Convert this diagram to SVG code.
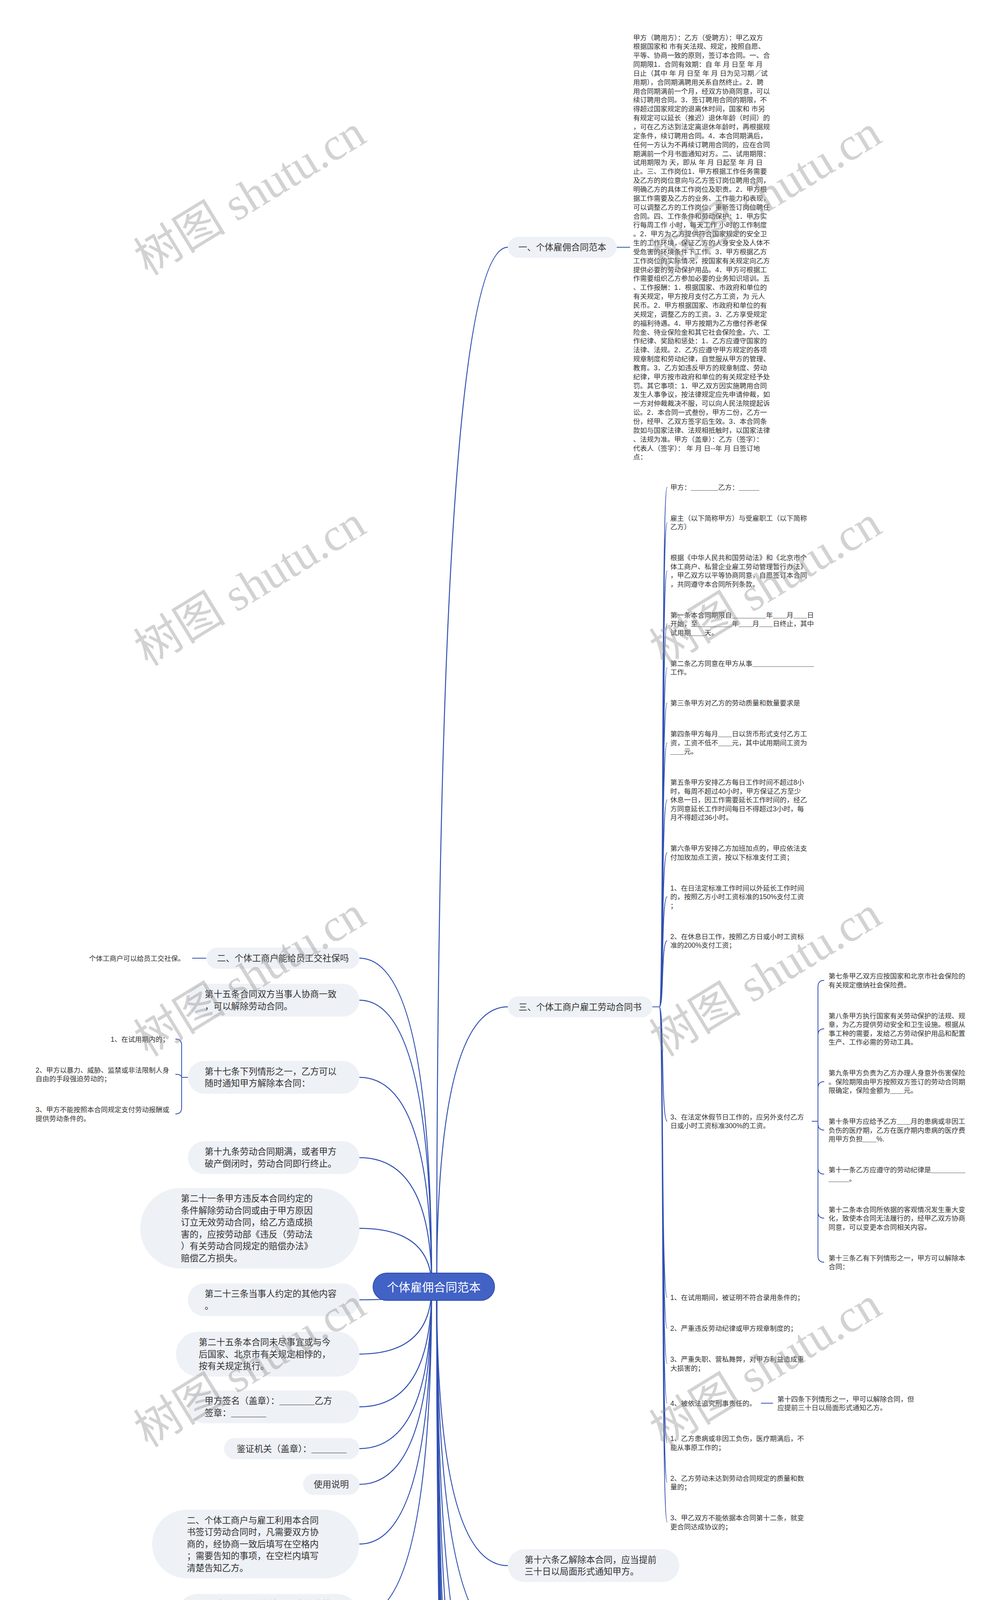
<svg xmlns="http://www.w3.org/2000/svg" width="2560" height="6058" viewBox="0 0 2560 6058">
<style>
text{font-family:"Liberation Sans","Noto Sans CJK SC",sans-serif;fill:#333}
.s{font-size:17.5px}
.m{font-size:22.5px}
.rt{font-size:30px;fill:#fff}
.nd{fill:#EEF1F6}
.c{fill:none;stroke:#3150B2;stroke-width:2}
.cr{fill:none;stroke:#3150B2;stroke-width:2.5}
.wm{font-size:118px;fill:#8a8a8a;opacity:.38}
</style>
<rect width="2560" height="6058" fill="#fff"/>
<g id="connectors">
<path class="cr" d="M1105 3294Q1105 2453 920 2453"/>
<path class="cr" d="M1105 3294Q1105 2560.5 920 2560.5"/>
<path class="cr" d="M1105 3294Q1105 2758 920 2758"/>
<path class="cr" d="M1105 3294Q1105 2963.5 920 2963.5"/>
<path class="cr" d="M1105 3294Q1105 3144.5 920 3144.5"/>
<path class="cr" d="M1105 3294Q1105 3327.5 920 3327.5"/>
<path class="cr" d="M1105 3294Q1105 3466.5 920 3466.5"/>
<path class="cr" d="M1105 3294Q1105 3601.5 920 3601.5"/>
<path class="cr" d="M1105 3294Q1105 3708.5 920 3708.5"/>
<path class="cr" d="M1105 3294Q1105 3800 920 3800"/>
<path class="cr" d="M1105 3294Q1105 3952.75 920 3952.75"/>
<path class="cr" d="M1105 3294Q1105 4137.75 920 4137.75"/>
<path class="cr" d="M1118 3294Q1118 633 1300 633"/>
<path class="cr" d="M1118 3294Q1118 2577.5 1300 2577.5"/>
<path class="cr" d="M1118 3294Q1118 4008 1300 4008"/>
<path class="cr" d="M1118 3294Q1118 4196 1300 4196"/>
<path class="cr" d="M1118 3294Q1118 4465.5 1300 4465.5"/>
<path class="cr" d="M1118 3294Q1118 4723.5 1300 4723.5"/>
<path class="cr" d="M1118 3294Q1118 4969.5 1300 4969.5"/>
<path class="cr" d="M1118 3294Q1118 5154.5 1300 5154.5"/>
<path class="cr" d="M1118 3294Q1118 5278.5 1300 5278.5"/>
<path class="cr" d="M1118 3294Q1118 5387.5 1300 5387.5"/>
<path class="cr" d="M1118 3294Q1118 5496.5 1300 5496.5"/>
<path class="cr" d="M1118 3294Q1118 5712 1300 5712"/>
<path class="cr" d="M1118 3294Q1118 5942.75 1300 5942.75"/>
<path class="c" d="M1579 633H1613"/>
<path class="c" d="M528 2453H492"/>
<path class="c" d="M481 2758H465M465 2758V2676Q465 2660 449 2660M465 2758Q465 2750.25 449 2750.25M465 2758V2835.75Q465 2851.75 449 2851.75"/>
<path class="c" d="M1739 4196H1755M1755 4196V4125Q1755 4109 1771 4109M1755 4196Q1755 4188 1771 4188M1755 4196V4262.25Q1755 4278.25 1771 4278.25"/>
<path class="c" d="M1670 2577.5H1688"/>
<path class="c" d="M1688 2577.5C1700 2577.5 1692 1247 1708 1247M1688 2577.5C1700 2577.5 1692 1337.25 1708 1337.25M1688 2577.5C1700 2577.5 1692 1461.25 1708 1461.25M1688 2577.5C1700 2577.5 1692 1596.5 1708 1596.5M1688 2577.5C1700 2577.5 1692 1709.25 1708 1709.25M1688 2577.5C1700 2577.5 1692 1799.5 1708 1799.5M1688 2577.5C1700 2577.5 1692 1901 1708 1901M1688 2577.5C1700 2577.5 1692 2047.5 1708 2047.5M1688 2577.5C1700 2577.5 1692 2182.75 1708 2182.75M1688 2577.5C1700 2577.5 1692 2295.5 1708 2295.5M1688 2577.5C1700 2577.5 1692 2408.25 1708 2408.25M1688 2577.5C1700 2577.5 1692 2870.5 1708 2870.5M1688 2577.5C1700 2577.5 1692 3321.5 1708 3321.5M1688 2577.5C1700 2577.5 1692 3400.5 1708 3400.5M1688 2577.5C1700 2577.5 1692 3490.75 1708 3490.75M1688 2577.5C1700 2577.5 1692 3592.25 1708 3592.25M1688 2577.5C1700 2577.5 1692 3693.75 1708 3693.75M1688 2577.5C1700 2577.5 1692 3795.25 1708 3795.25M1688 2577.5C1700 2577.5 1692 3896.75 1708 3896.75"/>
<path class="c" d="M2078 2870.5H2094M2094 2870.5V2525.75Q2094 2509.75 2110 2509.75M2094 2870.5V2649.75Q2094 2633.75 2110 2633.75M2094 2870.5V2785Q2094 2769 2110 2769M2094 2870.5V2877Q2094 2893 2110 2893M2094 2870.5V2989.75Q2094 3005.75 2110 3005.75M2094 2870.5V3102.5Q2094 3118.5 2110 3118.5M2094 2870.5V3215.25Q2094 3231.25 2110 3231.25"/>
<path class="c" d="M1948 3592.25H1979"/>
</g>
<g id="root"><rect x="955" y="3259" width="311" height="70" rx="35" fill="#4262C6" stroke="#2F4DA8" stroke-width="2"/><text class="rt" x="1110.5" y="3305.5" text-anchor="middle">个体雇佣合同范本</text></g>
<g id="r1"><rect class="nd" x="1300" y="606" width="279" height="54" rx="27"/><text class="m" x="1439.5" y="641" text-anchor="middle">一、个体雇佣合同范本</text></g>
<g id="r1-text"><text class="s" x="1621" y="102.5"><tspan x="1621">甲方（聘用方）：乙方（受聘方）：甲乙双方</tspan><tspan x="1621" dy="22.85">根据国家和 市有关法规、规定，按照自愿、</tspan><tspan x="1621" dy="22.85">平等、协商一致的原则，签订本合同。一、合</tspan><tspan x="1621" dy="22.85">同期限1．合同有效期：自 年 月 日至 年 月</tspan><tspan x="1621" dy="22.85">日止（其中 年 月 日至 年 月 日为见习期／试</tspan><tspan x="1621" dy="22.85">用期），合同期满聘用关系自然终止。2．聘</tspan><tspan x="1621" dy="22.85">用合同期满前一个月，经双方协商同意，可以</tspan><tspan x="1621" dy="22.85">续订聘用合同。3．签订聘用合同的期限，不</tspan><tspan x="1621" dy="22.85">得超过国家规定的退离休时间，国家和 市另</tspan><tspan x="1621" dy="22.85">有规定可以延长（推迟）退休年龄（时间）的</tspan><tspan x="1621" dy="22.85">，可在乙方达到法定离退休年龄时，再根据规</tspan><tspan x="1621" dy="22.85">定条件，续订聘用合同。4．本合同期满后，</tspan><tspan x="1621" dy="22.85">任何一方认为不再续订聘用合同的，应在合同</tspan><tspan x="1621" dy="22.85">期满前一个月书面通知对方。二、试用期限：</tspan><tspan x="1621" dy="22.85">试用期限为 天，即从 年 月 日起至 年 月 日</tspan><tspan x="1621" dy="22.85">止。三、工作岗位1．甲方根据工作任务需要</tspan><tspan x="1621" dy="22.85">及乙方的岗位意向与乙方签订岗位聘用合同，</tspan><tspan x="1621" dy="22.85">明确乙方的具体工作岗位及职责。2．甲方根</tspan><tspan x="1621" dy="22.85">据工作需要及乙方的业务、工作能力和表现，</tspan><tspan x="1621" dy="22.85">可以调整乙方的工作岗位，重新签订岗位聘任</tspan><tspan x="1621" dy="22.85">合同。四、工作条件和劳动保护：1．甲方实</tspan><tspan x="1621" dy="22.85">行每周工作 小时，每天工作 小时的工作制度</tspan><tspan x="1621" dy="22.85">。2．甲方为乙方提供符合国家规定的安全卫</tspan><tspan x="1621" dy="22.85">生的工作环境，保证乙方的人身安全及人体不</tspan><tspan x="1621" dy="22.85">受危害的环境条件下工作。3．甲方根据乙方</tspan><tspan x="1621" dy="22.85">工作岗位的实际情况，按国家有关规定向乙方</tspan><tspan x="1621" dy="22.85">提供必要的劳动保护用品。4．甲方可根据工</tspan><tspan x="1621" dy="22.85">作需要组织乙方参加必要的业务知识培训。五</tspan><tspan x="1621" dy="22.85">、工作报酬：1．根据国家、市政府和单位的</tspan><tspan x="1621" dy="22.85">有关规定，甲方按月支付乙方工资，为 元人</tspan><tspan x="1621" dy="22.85">民币。2．甲方根据国家、市政府和单位的有</tspan><tspan x="1621" dy="22.85">关规定，调整乙方的工资。3．乙方享受规定</tspan><tspan x="1621" dy="22.85">的福利待遇。4．甲方按期为乙方缴付养老保</tspan><tspan x="1621" dy="22.85">险金、待业保险金和其它社会保险金。六、工</tspan><tspan x="1621" dy="22.85">作纪律、奖励和惩处：1．乙方应遵守国家的</tspan><tspan x="1621" dy="22.85">法律、法规。2．乙方应遵守甲方规定的各项</tspan><tspan x="1621" dy="22.85">规章制度和劳动纪律，自觉服从甲方的管理、</tspan><tspan x="1621" dy="22.85">教育。3．乙方如违反甲方的规章制度、劳动</tspan><tspan x="1621" dy="22.85">纪律，甲方按市政府和单位的有关规定经予处</tspan><tspan x="1621" dy="22.85">罚。其它事项：1．甲乙双方因实施聘用合同</tspan><tspan x="1621" dy="22.85">发生人事争议，按法律规定应先申请仲裁，如</tspan><tspan x="1621" dy="22.85">一方对仲裁裁决不服，可以向人民法院提起诉</tspan><tspan x="1621" dy="22.85">讼。2．本合同一式叁份，甲方二份，乙方一</tspan><tspan x="1621" dy="22.85">份，经甲、乙双方签字后生效。3．本合同条</tspan><tspan x="1621" dy="22.85">款如与国家法律、法规相抵触时，以国家法律</tspan><tspan x="1621" dy="22.85">、法规为准。甲方（盖章）：乙方（签字）：</tspan><tspan x="1621" dy="22.85">代表人（签字）： 年 月 日--年 月 日签订地</tspan><tspan x="1621" dy="22.85">点：</tspan></text></g>
<g id="r3"><rect class="nd" x="1300" y="2550.5" width="370" height="54" rx="27"/><text class="m" x="1485" y="2585.5" text-anchor="middle">三、个体工商户雇工劳动合同书</text></g>
<g id="r3-c1"><text class="s" x="1716" y="1253.5">甲方：＿＿＿＿乙方：＿＿＿</text></g>
<g id="r3-c2"><text class="s" x="1716" y="1332.5"><tspan x="1716">雇主（以下简称甲方）与受雇职工（以下简称</tspan><tspan x="1716" dy="22.5">乙方）</tspan></text></g>
<g id="r3-c3"><text class="s" x="1716" y="1434"><tspan x="1716">根据《中华人民共和国劳动法》和《北京市个</tspan><tspan x="1716" dy="22.5">体工商户、私营企业雇工劳动管理暂行办法》</tspan><tspan x="1716" dy="22.5">，甲乙双方以平等协商同意，自愿签订本合同</tspan><tspan x="1716" dy="22.5">，共同遵守本合同所列条款。</tspan></text></g>
<g id="r3-c4"><text class="s" x="1716" y="1580.5"><tspan x="1716">第一条本合同期限自＿＿＿＿＿年＿＿月＿＿日</tspan><tspan x="1716" dy="22.5">开始，至＿＿＿＿＿年＿＿月＿＿日终止，其中</tspan><tspan x="1716" dy="22.5">试用期＿＿天。</tspan></text></g>
<g id="r3-c5"><text class="s" x="1716" y="1704.5"><tspan x="1716">第二条乙方同意在甲方从事＿＿＿＿＿＿＿＿＿</tspan><tspan x="1716" dy="22.5">工作。</tspan></text></g>
<g id="r3-c6"><text class="s" x="1716" y="1806">第三条甲方对乙方的劳动质量和数量要求是</text></g>
<g id="r3-c7"><text class="s" x="1716" y="1885"><tspan x="1716">第四条甲方每月＿＿日以货币形式支付乙方工</tspan><tspan x="1716" dy="22.5">资，工资不低不＿＿元，其中试用期间工资为</tspan><tspan x="1716" dy="22.5">＿＿元。</tspan></text></g>
<g id="r3-c8"><text class="s" x="1716" y="2009"><tspan x="1716">第五条甲方安排乙方每日工作时间不超过8小</tspan><tspan x="1716" dy="22.5">时，每周不超过40小时，甲方保证乙方至少</tspan><tspan x="1716" dy="22.5">休息一日，因工作需要延长工作时间的，经乙</tspan><tspan x="1716" dy="22.5">方同意延长工作时间每日不得超过3小时，每</tspan><tspan x="1716" dy="22.5">月不得超过36小时。</tspan></text></g>
<g id="r3-c9"><text class="s" x="1716" y="2178"><tspan x="1716">第六条甲方安排乙方加班加点的，甲应依法支</tspan><tspan x="1716" dy="22.5">付加玫加点工资，按以下标准支付工资；</tspan></text></g>
<g id="r3-c10"><text class="s" x="1716" y="2279.5"><tspan x="1716">1、在日法定标准工作时间以外延长工作时间</tspan><tspan x="1716" dy="22.5">的，按照乙方小时工资标准的150%支付工资</tspan><tspan x="1716" dy="22.5">；</tspan></text></g>
<g id="r3-c11"><text class="s" x="1716" y="2403.5"><tspan x="1716">2、在休息日工作，按照乙方日或小时工资标</tspan><tspan x="1716" dy="22.5">准的200%支付工资；</tspan></text></g>
<g id="r3-c12"><text class="s" x="1716" y="2865.75"><tspan x="1716">3、在法定休假节日工作的，应另外支付乙方</tspan><tspan x="1716" dy="22.5">日或小时工资标准300%的工资。</tspan></text></g>
<g id="r3-c12-a"><text class="s" x="2121" y="2505"><tspan x="2121">第七条甲乙双方应按国家和北京市社会保险的</tspan><tspan x="2121" dy="22.5">有关规定缴纳社会保险费。</tspan></text></g>
<g id="r3-c12-b"><text class="s" x="2121" y="2606.5"><tspan x="2121">第八条甲方执行国家有关劳动保护的法规、规</tspan><tspan x="2121" dy="22.5">章，为乙方提供劳动安全和卫生设施。根据从</tspan><tspan x="2121" dy="22.5">事工种的需要，发给乙方劳动保护用品和配置</tspan><tspan x="2121" dy="22.5">生产、工作必需的劳动工具。</tspan></text></g>
<g id="r3-c12-c"><text class="s" x="2121" y="2753"><tspan x="2121">第九条甲方负责为乙方办理人身意外伤害保险</tspan><tspan x="2121" dy="22.5">。保险期限由甲方按照双方签订的劳动合同期</tspan><tspan x="2121" dy="22.5">限确定，保险金额为＿＿元。</tspan></text></g>
<g id="r3-c12-d"><text class="s" x="2121" y="2877"><tspan x="2121">第十条甲方应给予乙方＿＿月的患病或非因工</tspan><tspan x="2121" dy="22.5">负伤的医疗期，乙方在医疗期内患病的医疗费</tspan><tspan x="2121" dy="22.5">用甲方负担＿＿%.</tspan></text></g>
<g id="r3-c12-e"><text class="s" x="2121" y="3001"><tspan x="2121">第十一条乙方应遵守的劳动纪律是＿＿＿＿＿</tspan><tspan x="2121" dy="22.5">＿＿＿。</tspan></text></g>
<g id="r3-c12-f"><text class="s" x="2121" y="3102.5"><tspan x="2121">第十二条本合同所依据的客观情况发生重大变</tspan><tspan x="2121" dy="22.5">化，致使本合同无法履行的，经甲乙双方协商</tspan><tspan x="2121" dy="22.5">同意，可以变更本合同相关内容。</tspan></text></g>
<g id="r3-c12-g"><text class="s" x="2121" y="3226.5"><tspan x="2121">第十三条乙有下列情形之一，甲方可以解除本</tspan><tspan x="2121" dy="22.5">合同：</tspan></text></g>
<g id="r3-c13"><text class="s" x="1716" y="3328">1、在试用期间，被证明不符合录用条件的；</text></g>
<g id="r3-c14"><text class="s" x="1716" y="3407">2、严重违反劳动纪律或甲方规章制度的；</text></g>
<g id="r3-c15"><text class="s" x="1716" y="3486"><tspan x="1716">3、严重失职、营私舞弊，对甲方利益造成重</tspan><tspan x="1716" dy="22.5">大损害的；</tspan></text></g>
<g id="r3-c16"><text class="s" x="1716" y="3598.75">4、被依法追究刑事责任的。</text></g>
<g id="r3-c16-a"><text class="s" x="1990" y="3587.5"><tspan x="1990">第十四条下列情形之一，甲可以解除合同，但</tspan><tspan x="1990" dy="22.5">应提前三十日以局面形式通知乙方。</tspan></text></g>
<g id="r3-c17"><text class="s" x="1716" y="3689"><tspan x="1716">1、乙方患病或非因工负伤，医疗期满后，不</tspan><tspan x="1716" dy="22.5">能从事原工作的；</tspan></text></g>
<g id="r3-c18"><text class="s" x="1716" y="3790.5"><tspan x="1716">2、乙方劳动未达到劳动合同规定的质量和数</tspan><tspan x="1716" dy="22.5">量的；</tspan></text></g>
<g id="r3-c19"><text class="s" x="1716" y="3892"><tspan x="1716">3、甲乙双方不能依据本合同第十二条，就变</tspan><tspan x="1716" dy="22.5">更合同达成协议的；</tspan></text></g>
<g id="r16"><rect class="nd" x="1300" y="3966" width="439" height="84" rx="42"/><text class="m" x="1343" y="4000.75"><tspan x="1343">第十六条乙解除本合同，应当提前</tspan><tspan x="1343" dy="30.5">三十日以局面形式通知甲方。</tspan></text></g>
<g id="r18"><rect class="nd" x="1300" y="4154" width="439" height="84" rx="42"/><text class="m" x="1343" y="4188.75"><tspan x="1343">第十八条乙方有下列情形之一，甲</tspan><tspan x="1343" dy="30.5">方不得解除、终止本合同：</tspan></text></g>
<g id="r18-c1"><text class="s" x="1781" y="4115.5">1、患病或非因工负伤在规定的医疗期内的；</text></g>
<g id="r18-c2"><text class="s" x="1781" y="4194.5">2、女职工在孕期、产期、哺乳期内的；</text></g>
<g id="r18-c3"><text class="s" x="1781" y="4273.5"><tspan x="1781">3、患职业病或因工负伤并经确认丧失或部分</tspan><tspan x="1781" dy="22.5">丧失劳动能力的。</tspan></text></g>
<g id="r20"><rect class="nd" x="1300" y="4347" width="592" height="237" rx="118.5"/><text class="m" x="1419.5" y="4382"><tspan x="1419.5">第二十条甲方依据本合同第十四条</tspan><tspan x="1419.5" dy="30.5">、十五条解除乙方劳动合同以及甲</tspan><tspan x="1419.5" dy="30.5">方克扣或者无故拖欠乙方工资和拒</tspan><tspan x="1419.5" dy="30.5">不支付乙方加班加点工资报酬的，</tspan><tspan x="1419.5" dy="30.5">甲方应依据劳动部《违反和解除劳</tspan><tspan x="1419.5" dy="30.5">动合同的经济补偿办法》支付乙方</tspan><tspan x="1419.5" dy="30.5">经济补偿金。</tspan></text></g>
<g id="r22"><rect class="nd" x="1300" y="4620.5" width="561" height="206" rx="103"/><text class="m" x="1404" y="4655.25"><tspan x="1404">第二十二条乙方违反本合同约定的</tspan><tspan x="1404" dy="30.5">条件解除劳动合同或违反本合同约</tspan><tspan x="1404" dy="30.5">定的保守商业秘密事项，给甲笔造</tspan><tspan x="1404" dy="30.5">成损失的，乙方应按劳动部《违反</tspan><tspan x="1404" dy="30.5">（劳动法）有关劳动合同规定的赔</tspan><tspan x="1404" dy="30.5">偿办法》赔偿甲方损失。</tspan></text></g>
<g id="r24"><rect class="nd" x="1300" y="4866.5" width="561" height="206" rx="103"/><text class="m" x="1404" y="4901.25"><tspan x="1404">第二十四条因履行本合同发生的劳</tspan><tspan x="1404" dy="30.5">动争议，当事人一方要求仲裁的，</tspan><tspan x="1404" dy="30.5">应当自劳动争议发生之日起六十日</tspan><tspan x="1404" dy="30.5">内向＿＿＿＿＿＿劳动争议仲</tspan><tspan x="1404" dy="30.5">裁委员会申请仲裁。对裁决不服的</tspan><tspan x="1404" dy="30.5">，可以向人民法院提起诉讼。</tspan></text></g>
<g id="r26"><rect class="nd" x="1300" y="5112.5" width="439" height="84" rx="42"/><text class="m" x="1343" y="5147.25"><tspan x="1343">第二十六条本合同书一式二份，甲</tspan><tspan x="1343" dy="30.5">、乙双方各一份。</tspan></text></g>
<g id="r-date"><rect class="nd" x="1300" y="5236.5" width="439" height="84" rx="42"/><text class="m" x="1343" y="5271.25"><tspan x="1343">签订日期：＿＿＿＿年＿＿月＿＿</tspan><tspan x="1343" dy="30.5">日</tspan></text></g>
<g id="r-jzy"><rect class="nd" x="1300" y="5360.5" width="324" height="54" rx="27"/><text class="m" x="1462" y="5395.5" text-anchor="middle">鉴证员（签章）：＿＿＿＿</text></g>
<g id="r-u1"><rect class="nd" x="1300" y="5454.5" width="439" height="84" rx="42"/><text class="m" x="1343" y="5489.25"><tspan x="1343">一、本合同书可做为个体工商户与</tspan><tspan x="1343" dy="30.5">雇工签订劳动合同之用。</tspan></text></g>
<g id="r-u3"><rect class="nd" x="1300" y="5578.5" width="622" height="267" rx="133.5"/><text class="m" x="1434.5" y="5613.25"><tspan x="1434.5">三、本合同设定的条款不适用的，</tspan><tspan x="1434.5" dy="30.5">经甲、乙双方协商一致，在本合</tspan><tspan x="1434.5" dy="30.5">同书第二十三条一栏中“打√”，</tspan><tspan x="1434.5" dy="30.5">列出双方当事人协商一致的条款</tspan><tspan x="1434.5" dy="30.5">，双方协商删除某条款的，应在</tspan><tspan x="1434.5" dy="30.5">本栏中写明“经双方协商删除某</tspan><tspan x="1434.5" dy="30.5">条款”，并在下面签字确认，不</tspan><tspan x="1434.5" dy="30.5">得另行修改。</tspan></text></g>
<g id="r-u5"><rect class="nd" x="1300" y="5885.5" width="469.5" height="114.5" rx="57.25"/><text class="m" x="1358.25" y="5920.25"><tspan x="1358.25">五、当事人约定的其他内容，劳动</tspan><tspan x="1358.25" dy="30.5">合同变更书及续订书在本合同内填</tspan><tspan x="1358.25" dy="30.5">写不下时，可另附纸。</tspan></text></g>
<g id="l2"><rect class="nd" x="528.5" y="2426" width="391.5" height="54" rx="27"/><text class="m" x="724.25" y="2461" text-anchor="middle">二、个体工商户能给员工交社保吗</text></g>
<g id="l2-c1"><text class="s" x="473" y="2459.5" text-anchor="end">个体工商户可以给员工交社保。</text></g>
<g id="l15"><rect class="nd" x="481" y="2518.5" width="439" height="84" rx="42"/><text class="m" x="524" y="2553.25"><tspan x="524">第十五条合同双方当事人协商一致</tspan><tspan x="524" dy="30.5">，可以解除劳动合同。</tspan></text></g>
<g id="l17"><rect class="nd" x="481" y="2716" width="439" height="84" rx="42"/><text class="m" x="524" y="2750.75"><tspan x="524">第十七条下列情形之一，乙方可以</tspan><tspan x="524" dy="30.5">随时通知甲方解除本合同：</tspan></text></g>
<g id="l17-c1"><text class="s" x="433" y="2666.5" text-anchor="end">1、在试用期内的；</text></g>
<g id="l17-c2"><text class="s" x="91" y="2745.5"><tspan x="91">2、甲方以暴力、威胁、监禁或非法限制人身</tspan><tspan x="91" dy="22.5">自由的手段强迫劳动的；</tspan></text></g>
<g id="l17-c3"><text class="s" x="91" y="2847"><tspan x="91">3、甲方不能按照本合同规定支付劳动报酬或</tspan><tspan x="91" dy="22.5">提供劳动条件的。</tspan></text></g>
<g id="l19"><rect class="nd" x="481" y="2921.5" width="439" height="84" rx="42"/><text class="m" x="524" y="2956.25"><tspan x="524">第十九条劳动合同期满，或者甲方</tspan><tspan x="524" dy="30.5">破产倒闭时，劳动合同即行终止。</tspan></text></g>
<g id="l21"><rect class="nd" x="359" y="3041.5" width="561" height="206" rx="103"/><text class="m" x="463" y="3076.25"><tspan x="463">第二十一条甲方违反本合同约定的</tspan><tspan x="463" dy="30.5">条件解除劳动合同或由于甲方原因</tspan><tspan x="463" dy="30.5">订立无效劳动合同，给乙方造成损</tspan><tspan x="463" dy="30.5">害的，应按劳动部《违反（劳动法</tspan><tspan x="463" dy="30.5">）有关劳动合同规定的赔偿办法》</tspan><tspan x="463" dy="30.5">赔偿乙方损失。</tspan></text></g>
<g id="l23"><rect class="nd" x="481" y="3285.5" width="439" height="84" rx="42"/><text class="m" x="524" y="3320.25"><tspan x="524">第二十三条当事人约定的其他内容</tspan><tspan x="524" dy="30.5">。</tspan></text></g>
<g id="l25"><rect class="nd" x="450.5" y="3409.25" width="469.5" height="114.5" rx="57.25"/><text class="m" x="508.75" y="3444"><tspan x="508.75">第二十五条本合同未尽事宜或与今</tspan><tspan x="508.75" dy="30.5">后国家、北京市有关规定相悖的，</tspan><tspan x="508.75" dy="30.5">按有关规定执行。</tspan></text></g>
<g id="l-sign"><rect class="nd" x="481" y="3559.5" width="439" height="84" rx="42"/><text class="m" x="524" y="3594.25"><tspan x="524">甲方签名（盖章）：＿＿＿＿乙方</tspan><tspan x="524" dy="30.5">签章：＿＿＿＿</tspan></text></g>
<g id="l-jzjg"><rect class="nd" x="573.5" y="3681.5" width="346.5" height="54" rx="27"/><text class="m" x="746.75" y="3716.5" text-anchor="middle">鉴证机关（盖章）：＿＿＿＿</text></g>
<g id="l-sysm"><rect class="nd" x="776" y="3773" width="144" height="54" rx="27"/><text class="m" x="848" y="3808" text-anchor="middle">使用说明</text></g>
<g id="l-u2"><rect class="nd" x="389.5" y="3865" width="530.5" height="175.5" rx="87.75"/><text class="m" x="478.25" y="3899.75"><tspan x="478.25">二、个体工商户与雇工利用本合同</tspan><tspan x="478.25" dy="30.5">书签订劳动合同时，凡需要双方协</tspan><tspan x="478.25" dy="30.5">商的，经协商一致后填写在空格内</tspan><tspan x="478.25" dy="30.5">；需要告知的事项，在空栏内填写</tspan><tspan x="478.25" dy="30.5">清楚告知乙方。</tspan></text></g>
<g id="l-u4"><rect class="nd" x="450.5" y="4080.5" width="469.5" height="114.5" rx="57.25"/><text class="m" x="508.75" y="4115.25"><tspan x="508.75">四、本合同用钢笔填写，字迹清楚</tspan><tspan x="508.75" dy="30.5">，文字简练、准确。本合同一经签</tspan><tspan x="508.75" dy="30.5">订，不得涂改。</tspan></text></g>
<g id="watermarks">
<text class="wm" x="640" y="540" text-anchor="middle" transform="rotate(-31.5 640 500)"><tspan font-family="Noto Sans CJK SC,sans-serif">树图</tspan><tspan font-family="Liberation Serif,serif"> shutu.cn</tspan></text>
<text class="wm" x="1960" y="540" text-anchor="middle" transform="rotate(-31.5 1960 500)"><tspan font-family="Noto Sans CJK SC,sans-serif">树图</tspan><tspan font-family="Liberation Serif,serif"> shutu.cn</tspan></text>
<text class="wm" x="640" y="1540" text-anchor="middle" transform="rotate(-31.5 640 1500)"><tspan font-family="Noto Sans CJK SC,sans-serif">树图</tspan><tspan font-family="Liberation Serif,serif"> shutu.cn</tspan></text>
<text class="wm" x="1960" y="1540" text-anchor="middle" transform="rotate(-31.5 1960 1500)"><tspan font-family="Noto Sans CJK SC,sans-serif">树图</tspan><tspan font-family="Liberation Serif,serif"> shutu.cn</tspan></text>
<text class="wm" x="640" y="2540" text-anchor="middle" transform="rotate(-31.5 640 2500)"><tspan font-family="Noto Sans CJK SC,sans-serif">树图</tspan><tspan font-family="Liberation Serif,serif"> shutu.cn</tspan></text>
<text class="wm" x="1960" y="2540" text-anchor="middle" transform="rotate(-31.5 1960 2500)"><tspan font-family="Noto Sans CJK SC,sans-serif">树图</tspan><tspan font-family="Liberation Serif,serif"> shutu.cn</tspan></text>
<text class="wm" x="640" y="3540" text-anchor="middle" transform="rotate(-31.5 640 3500)"><tspan font-family="Noto Sans CJK SC,sans-serif">树图</tspan><tspan font-family="Liberation Serif,serif"> shutu.cn</tspan></text>
<text class="wm" x="1960" y="3540" text-anchor="middle" transform="rotate(-31.5 1960 3500)"><tspan font-family="Noto Sans CJK SC,sans-serif">树图</tspan><tspan font-family="Liberation Serif,serif"> shutu.cn</tspan></text>
<text class="wm" x="640" y="4540" text-anchor="middle" transform="rotate(-31.5 640 4500)"><tspan font-family="Noto Sans CJK SC,sans-serif">树图</tspan><tspan font-family="Liberation Serif,serif"> shutu.cn</tspan></text>
<text class="wm" x="1960" y="4540" text-anchor="middle" transform="rotate(-31.5 1960 4500)"><tspan font-family="Noto Sans CJK SC,sans-serif">树图</tspan><tspan font-family="Liberation Serif,serif"> shutu.cn</tspan></text>
<text class="wm" x="640" y="5540" text-anchor="middle" transform="rotate(-31.5 640 5500)"><tspan font-family="Noto Sans CJK SC,sans-serif">树图</tspan><tspan font-family="Liberation Serif,serif"> shutu.cn</tspan></text>
<text class="wm" x="1960" y="5540" text-anchor="middle" transform="rotate(-31.5 1960 5500)"><tspan font-family="Noto Sans CJK SC,sans-serif">树图</tspan><tspan font-family="Liberation Serif,serif"> shutu.cn</tspan></text>
</g>
</svg>
